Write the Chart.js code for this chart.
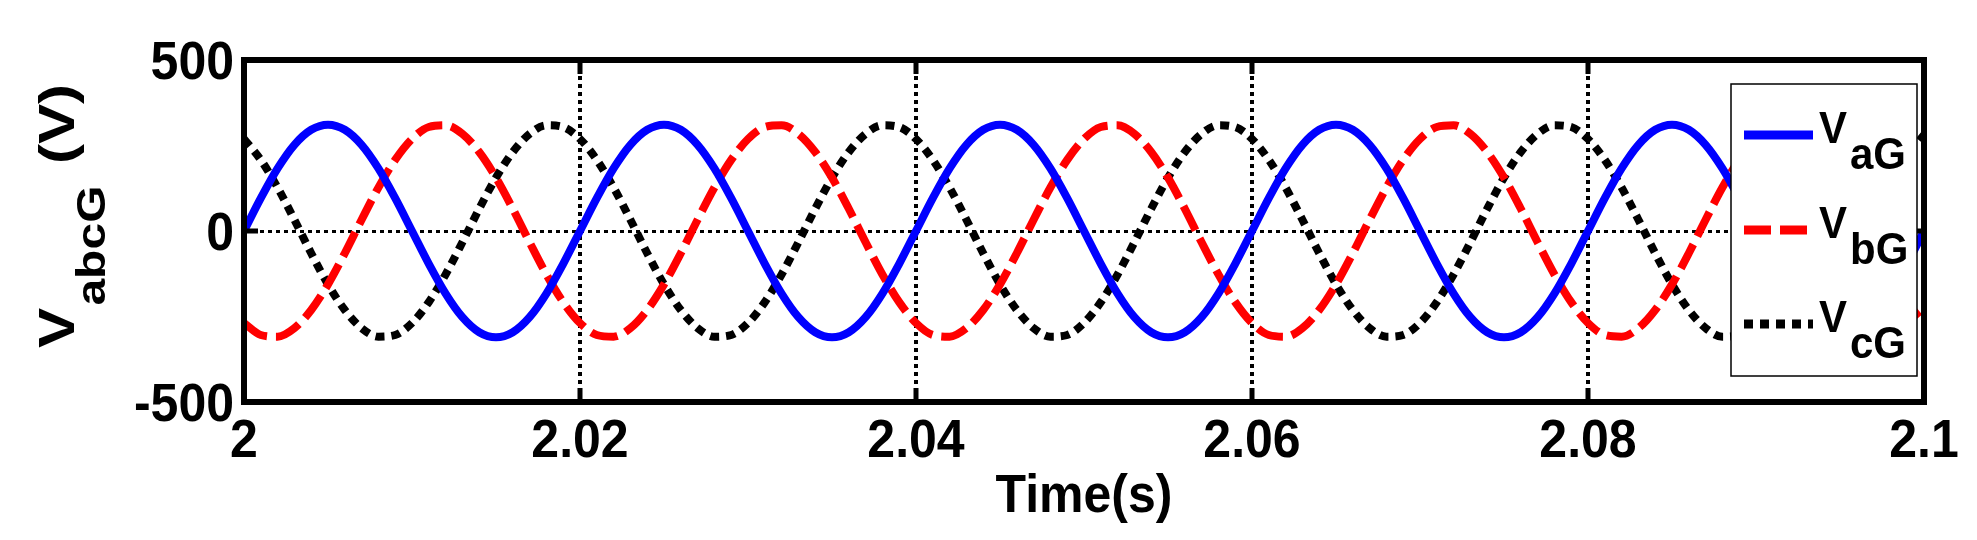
<!DOCTYPE html>
<html>
<head>
<meta charset="utf-8">
<script src="https://cdn.jsdelivr.net/npm/chart.js@4"></script>
<style>
  html, body { margin: 0; padding: 0; background: #fff; }
  #wrap { width: 1977px; height: 540px; }
</style>
</head>
<body>
<div id="wrap"><canvas id="vabc"></canvas></div>
<script>
// sample times (s), 1 ms apart
const times = [
  2.000, 2.001, 2.002, 2.003, 2.004, 2.005, 2.006, 2.007, 2.008, 2.009,
  2.010, 2.011, 2.012, 2.013, 2.014, 2.015, 2.016, 2.017, 2.018, 2.019,
  2.020, 2.021, 2.022, 2.023, 2.024, 2.025, 2.026, 2.027, 2.028, 2.029,
  2.030, 2.031, 2.032, 2.033, 2.034, 2.035, 2.036, 2.037, 2.038, 2.039,
  2.040, 2.041, 2.042, 2.043, 2.044, 2.045, 2.046, 2.047, 2.048, 2.049,
  2.050, 2.051, 2.052, 2.053, 2.054, 2.055, 2.056, 2.057, 2.058, 2.059,
  2.060, 2.061, 2.062, 2.063, 2.064, 2.065, 2.066, 2.067, 2.068, 2.069,
  2.070, 2.071, 2.072, 2.073, 2.074, 2.075, 2.076, 2.077, 2.078, 2.079,
  2.080, 2.081, 2.082, 2.083, 2.084, 2.085, 2.086, 2.087, 2.088, 2.089,
  2.090, 2.091, 2.092, 2.093, 2.094, 2.095, 2.096, 2.097, 2.098, 2.099,
  2.100
];

// phase voltages (V)
const vaG = [
  0, 96, 183, 252, 296, 311, 296, 252, 183, 96, 0, -96, -183, -252, -296, -311, -296, -252, -183, -96,
  0, 96, 183, 252, 296, 311, 296, 252, 183, 96, 0, -96, -183, -252, -296, -311, -296, -252, -183, -96,
  0, 96, 183, 252, 296, 311, 296, 252, 183, 96, 0, -96, -183, -252, -296, -311, -296, -252, -183, -96,
  0, 96, 183, 252, 296, 311, 296, 252, 183, 96, 0, -96, -183, -252, -296, -311, -296, -252, -183, -96,
  0, 96, 183, 252, 296, 311, 296, 252, 183, 96, 0, -96, -183, -252, -296, -311, -296, -252, -183, -96,
  0
];
const vbG = [
  -269, -304, -309, -284, -231, -156, -65, 33, 127, 208, 269, 304, 309, 284, 231, 156, 65, -33, -127, -208,
  -269, -304, -309, -284, -231, -156, -65, 33, 127, 208, 269, 304, 309, 284, 231, 156, 65, -33, -127, -208,
  -269, -304, -309, -284, -231, -156, -65, 33, 127, 208, 269, 304, 309, 284, 231, 156, 65, -33, -127, -208,
  -269, -304, -309, -284, -231, -156, -65, 33, 127, 208, 269, 304, 309, 284, 231, 156, 65, -33, -127, -208,
  -269, -304, -309, -284, -231, -156, -65, 33, 127, 208, 269, 304, 309, 284, 231, 156, 65, -33, -127, -208,
  -269
];
const vcG = [
  269, 208, 127, 33, -65, -156, -231, -284, -309, -304, -269, -208, -127, -33, 65, 156, 231, 284, 309, 304,
  269, 208, 127, 33, -65, -156, -231, -284, -309, -304, -269, -208, -127, -33, 65, 156, 231, 284, 309, 304,
  269, 208, 127, 33, -65, -156, -231, -284, -309, -304, -269, -208, -127, -33, 65, 156, 231, 284, 309, 304,
  269, 208, 127, 33, -65, -156, -231, -284, -309, -304, -269, -208, -127, -33, 65, 156, 231, 284, 309, 304,
  269, 208, 127, 33, -65, -156, -231, -284, -309, -304, -269, -208, -127, -33, 65, 156, 231, 284, 309, 304,
  269
];

const xTicks = [2, 2.02, 2.04, 2.06, 2.08, 2.1];
const yTicks = [-500, 0, 500];
const legendNames = [['V', 'aG'], ['V', 'bG'], ['V', 'cG']];

const FONT = '"Liberation Sans", Arial, sans-serif';

function pts(vals) {
    return times.map((t, i) => ({ x: t, y: vals[i] }));
}

const styles = [
    { color: '#0000ff', dash: [] },
    { color: '#ff0000', dash: [27, 9] },
    { color: '#000000', dash: [9, 7] }
];

// text a little taller than wide, as in the source figure
function tallText(ctx, txt, x, y, sy) {
    ctx.save();
    ctx.translate(x, y);
    ctx.scale(1, sy);
    ctx.fillText(txt, 0, 0);
    ctx.restore();
}

const frame = {
    id: 'frame',
    afterDatasetsDraw(chart) {
        const { ctx, chartArea: a, scales } = chart;
        ctx.save();
        // tick marks inside the box
        ctx.strokeStyle = '#000';
        ctx.lineWidth = 5;
        ctx.setLineDash([]);
        xTicks.forEach(v => {
            const x = scales.x.getPixelForValue(v);
            ctx.beginPath();
            ctx.moveTo(x, a.top); ctx.lineTo(x, a.top + 14);
            ctx.moveTo(x, a.bottom); ctx.lineTo(x, a.bottom - 14);
            ctx.stroke();
        });
        yTicks.forEach(v => {
            const y = scales.y.getPixelForValue(v);
            ctx.beginPath();
            ctx.moveTo(a.left, y); ctx.lineTo(a.left + 14, y);
            ctx.moveTo(a.right, y); ctx.lineTo(a.right - 14, y);
            ctx.stroke();
        });
        // box
        ctx.lineWidth = 6;
        ctx.strokeRect(a.left, a.top, a.right - a.left, a.bottom - a.top);

        // tick labels
        ctx.fillStyle = '#000';
        ctx.font = 'bold 50px ' + FONT;
        ctx.textBaseline = 'alphabetic';
        ctx.textAlign = 'center';
        xTicks.forEach(v => {
            tallText(ctx, String(v), scales.x.getPixelForValue(v), 457, 1.08);
        });
        ctx.textAlign = 'right';
        yTicks.forEach(v => {
            tallText(ctx, String(v), a.left - 10, scales.y.getPixelForValue(v) + 19, 1.08);
        });

        // legend
        const lx = 1731, ly = 84, lw = 186, lh = 292;
        ctx.fillStyle = '#fff';
        ctx.fillRect(lx, ly, lw, lh);
        ctx.strokeStyle = '#000';
        ctx.lineWidth = 1.5;
        ctx.strokeRect(lx, ly, lw, lh);
        const rows = [135, 230, 324];
        rows.forEach((y, i) => {
            ctx.strokeStyle = styles[i].color;
            ctx.lineWidth = 9;
            ctx.setLineDash(styles[i].dash);
            ctx.beginPath();
            ctx.moveTo(1744, y); ctx.lineTo(1813, y);
            ctx.stroke();
            ctx.setLineDash([]);
            ctx.fillStyle = '#000';
            ctx.textAlign = 'left';
            ctx.font = 'bold 42px ' + FONT;
            tallText(ctx, legendNames[i][0], 1819, y + 8, 1.05);
            tallText(ctx, legendNames[i][1], 1850, y + 34, 1.05);
        });

        // axis titles
        ctx.fillStyle = '#000';
        ctx.font = 'bold 50px ' + FONT;
        ctx.textAlign = 'center';
        tallText(ctx, 'Time(s)', (a.left + a.right) / 2, 512, 1.08);

        ctx.translate(74, 348);
        ctx.rotate(-Math.PI / 2);
        ctx.scale(1.2, 1);
        ctx.textAlign = 'left';
        ctx.font = 'bold 50px ' + FONT;
        ctx.fillText('V', 0, 0);
        let w = ctx.measureText('V').width;
        ctx.font = 'bold 40px ' + FONT;
        ctx.fillText('abcG', w + 2, 31);
        w += 2 + ctx.measureText('abcG').width;
        ctx.font = 'bold 50px ' + FONT;
        ctx.fillText(' (V)', w + 4, 0);
        ctx.restore();
    }
};

const ctx = document.getElementById('vabc').getContext('2d');
const vChart = new Chart(ctx, {
    type: 'line',
    data: {
        datasets: [vaG, vbG, vcG].map((vals, i) => ({
            label: legendNames[i].join(''),
            data: pts(vals),
            borderColor: styles[i].color,
            borderDash: styles[i].dash,
            borderWidth: 8,
            pointRadius: 0,
            cubicInterpolationMode: 'monotone',
            fill: false
        }))
    },
    options: {
        responsive: true,
        maintainAspectRatio: false,
        animation: false,
        layout: { padding: { top: 60, right: 53, left: 0, bottom: 0 } },
        plugins: { legend: { display: false }, tooltip: { enabled: false } },
        scales: {
            x: {
                type: 'linear',
                min: 2, max: 2.1,
                afterBuildTicks: s => { s.ticks = xTicks.map(v => ({ value: v })); },
                afterFit: s => { s.height = 138; },
                border: { display: false, dash: [4, 4] },
                grid: { color: '#000', lineWidth: 4, drawTicks: false },
                ticks: {
                    color: 'rgba(0,0,0,0)',
                    padding: 14,
                    maxRotation: 0,
                    font: { family: FONT, size: 52, weight: 'bold' },
                    callback: v => String(+v.toFixed(2))
                }
            },
            y: {
                min: -500, max: 500,
                afterBuildTicks: s => { s.ticks = yTicks.map(v => ({ value: v })); },
                afterFit: s => { s.width = 244; },
                border: { display: false, dash: [4, 4] },
                grid: {
                    color: c => c.tick && c.tick.value === 0 ? '#000' : 'rgba(0,0,0,0)',
                    lineWidth: 3,
                    drawTicks: false
                },
                ticks: {
                    color: 'rgba(0,0,0,0)',
                    padding: 12,
                    font: { family: FONT, size: 52, weight: 'bold' }
                }
            }
        }
    },
    plugins: [frame]
});
</script>
</body>
</html>
